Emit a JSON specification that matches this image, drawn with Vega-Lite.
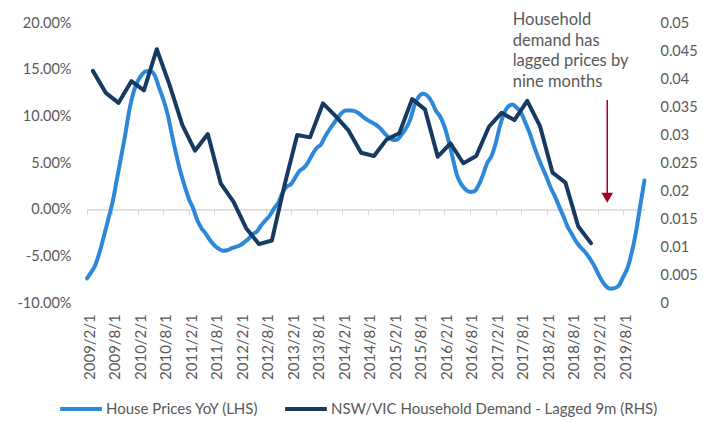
{
  "$schema": "https://vega.github.io/schema/vega-lite/v6.json",
  "width": 558,
  "height": 280,
  "autosize": "none",
  "padding": {"left": 87, "top": 23, "right": 75, "bottom": 123},
  "background": "white",
  "config": {
    "view": {"stroke": null},
    "font": "Lato",
    "axis": {"labelFont": "Lato", "labelColor": "#595959", "grid": false},
    "axisX": {
      "format": "%Y/%-m/%-d",
      "labelAngle": 270,
      "labelFontSize": 15,
      "labelOverlap": false,
      "labelFlush": false,
      "labelOffset": 2,
      "labelPadding": 99,
      "offset": -93.3,
      "domainColor": "#D9D9D9",
      "domainWidth": 1,
      "tickColor": "#D9D9D9",
      "tickSize": 5,
      "title": null
    },
    "legend": {"labelFont": "Lato"}
  },
  "datasets": {
    "prices": [
      {"d": "2009/2/1", "v": -0.0735}, {"d": "2009/3/1", "v": -0.0675}, {"d": "2009/4/1", "v": -0.0595}, {"d": "2009/5/1", "v": -0.046},
      {"d": "2009/6/1", "v": -0.029}, {"d": "2009/7/1", "v": -0.0114}, {"d": "2009/8/1", "v": 0.0067}, {"d": "2009/9/1", "v": 0.031},
      {"d": "2009/10/1", "v": 0.055}, {"d": "2009/11/1", "v": 0.08}, {"d": "2009/12/1", "v": 0.107}, {"d": "2010/1/1", "v": 0.1265},
      {"d": "2010/2/1", "v": 0.1382}, {"d": "2010/3/1", "v": 0.1447}, {"d": "2010/4/1", "v": 0.1484}, {"d": "2010/5/1", "v": 0.1482},
      {"d": "2010/6/1", "v": 0.1436}, {"d": "2010/7/1", "v": 0.1308}, {"d": "2010/8/1", "v": 0.1179}, {"d": "2010/9/1", "v": 0.1019},
      {"d": "2010/10/1", "v": 0.0805}, {"d": "2010/11/1", "v": 0.0591}, {"d": "2010/12/1", "v": 0.041}, {"d": "2011/1/1", "v": 0.0249},
      {"d": "2011/2/1", "v": 0.011}, {"d": "2011/3/1", "v": 0.0019}, {"d": "2011/4/1", "v": -0.0114}, {"d": "2011/5/1", "v": -0.02},
      {"d": "2011/6/1", "v": -0.0259}, {"d": "2011/7/1", "v": -0.0328}, {"d": "2011/8/1", "v": -0.0382}, {"d": "2011/9/1", "v": -0.0419},
      {"d": "2011/10/1", "v": -0.044}, {"d": "2011/11/1", "v": -0.0435}, {"d": "2011/12/1", "v": -0.0414}, {"d": "2012/1/1", "v": -0.0398},
      {"d": "2012/2/1", "v": -0.0382}, {"d": "2012/3/1", "v": -0.035}, {"d": "2012/4/1", "v": -0.0312}, {"d": "2012/5/1", "v": -0.0264},
      {"d": "2012/6/1", "v": -0.0232}, {"d": "2012/7/1", "v": -0.0168}, {"d": "2012/8/1", "v": -0.0114}, {"d": "2012/9/1", "v": -0.0061},
      {"d": "2012/10/1", "v": 0.0014}, {"d": "2012/11/1", "v": 0.0078}, {"d": "2012/12/1", "v": 0.0185}, {"d": "2013/1/1", "v": 0.0249},
      {"d": "2013/2/1", "v": 0.0276}, {"d": "2013/3/1", "v": 0.0345}, {"d": "2013/4/1", "v": 0.0415}, {"d": "2013/5/1", "v": 0.0447},
      {"d": "2013/6/1", "v": 0.0506}, {"d": "2013/7/1", "v": 0.0591}, {"d": "2013/8/1", "v": 0.0661}, {"d": "2013/9/1", "v": 0.0698},
      {"d": "2013/10/1", "v": 0.0784}, {"d": "2013/11/1", "v": 0.0859}, {"d": "2013/12/1", "v": 0.0923}, {"d": "2014/1/1", "v": 0.0987},
      {"d": "2014/2/1", "v": 0.1044}, {"d": "2014/3/1", "v": 0.1062}, {"d": "2014/4/1", "v": 0.1062}, {"d": "2014/5/1", "v": 0.1056},
      {"d": "2014/6/1", "v": 0.103}, {"d": "2014/7/1", "v": 0.0992}, {"d": "2014/8/1", "v": 0.096}, {"d": "2014/9/1", "v": 0.0933},
      {"d": "2014/10/1", "v": 0.0907}, {"d": "2014/11/1", "v": 0.0869}, {"d": "2014/12/1", "v": 0.0816}, {"d": "2015/1/1", "v": 0.0773},
      {"d": "2015/2/1", "v": 0.0746}, {"d": "2015/3/1", "v": 0.0752}, {"d": "2015/4/1", "v": 0.0805}, {"d": "2015/5/1", "v": 0.0869},
      {"d": "2015/6/1", "v": 0.0965}, {"d": "2015/7/1", "v": 0.1115}, {"d": "2015/8/1", "v": 0.1211}, {"d": "2015/9/1", "v": 0.1243},
      {"d": "2015/10/1", "v": 0.1222}, {"d": "2015/11/1", "v": 0.1158}, {"d": "2015/12/1", "v": 0.1062}, {"d": "2016/1/1", "v": 0.0998},
      {"d": "2016/2/1", "v": 0.0891}, {"d": "2016/3/1", "v": 0.0741}, {"d": "2016/4/1", "v": 0.0548}, {"d": "2016/5/1", "v": 0.0367},
      {"d": "2016/6/1", "v": 0.0271}, {"d": "2016/7/1", "v": 0.0217}, {"d": "2016/8/1", "v": 0.019}, {"d": "2016/9/1", "v": 0.0196},
      {"d": "2016/10/1", "v": 0.026}, {"d": "2016/11/1", "v": 0.0367}, {"d": "2016/12/1", "v": 0.0495}, {"d": "2017/1/1", "v": 0.057},
      {"d": "2017/2/1", "v": 0.0709}, {"d": "2017/3/1", "v": 0.088}, {"d": "2017/4/1", "v": 0.103}, {"d": "2017/5/1", "v": 0.1104},
      {"d": "2017/6/1", "v": 0.1126}, {"d": "2017/7/1", "v": 0.1094}, {"d": "2017/8/1", "v": 0.104}, {"d": "2017/9/1", "v": 0.0933},
      {"d": "2017/10/1", "v": 0.0826}, {"d": "2017/11/1", "v": 0.0687}, {"d": "2017/12/1", "v": 0.0565}, {"d": "2018/1/1", "v": 0.0452},
      {"d": "2018/2/1", "v": 0.0345}, {"d": "2018/3/1", "v": 0.0238}, {"d": "2018/4/1", "v": 0.0142}, {"d": "2018/5/1", "v": 0.0035},
      {"d": "2018/6/1", "v": -0.0072}, {"d": "2018/7/1", "v": -0.0184}, {"d": "2018/8/1", "v": -0.0264}, {"d": "2018/9/1", "v": -0.0346},
      {"d": "2018/10/1", "v": -0.0403}, {"d": "2018/11/1", "v": -0.0451}, {"d": "2018/12/1", "v": -0.051}, {"d": "2019/1/1", "v": -0.0585},
      {"d": "2019/2/1", "v": -0.0676}, {"d": "2019/3/1", "v": -0.0756}, {"d": "2019/4/1", "v": -0.082}, {"d": "2019/5/1", "v": -0.0847},
      {"d": "2019/6/1", "v": -0.0841}, {"d": "2019/7/1", "v": -0.0815}, {"d": "2019/8/1", "v": -0.0724}, {"d": "2019/9/1", "v": -0.0628},
      {"d": "2019/10/1", "v": -0.0467}, {"d": "2019/11/1", "v": -0.0243}, {"d": "2019/12/1", "v": 0.0035}, {"d": "2020/1/1", "v": 0.0313}
    ],
    "demand": [
      {"d": "2009/3/15", "v": 0.04145}, {"d": "2009/6/15", "v": 0.03753}, {"d": "2009/9/15", "v": 0.03575}, {"d": "2009/12/15", "v": 0.03961},
      {"d": "2010/3/15", "v": 0.03796}, {"d": "2010/6/15", "v": 0.04532}, {"d": "2010/9/15", "v": 0.0389}, {"d": "2010/12/15", "v": 0.03177},
      {"d": "2011/3/15", "v": 0.02719}, {"d": "2011/6/15", "v": 0.03017}, {"d": "2011/9/15", "v": 0.02138}, {"d": "2011/12/15", "v": 0.0181},
      {"d": "2012/3/15", "v": 0.01336}, {"d": "2012/6/15", "v": 0.01051}, {"d": "2012/9/15", "v": 0.01116}, {"d": "2012/12/15", "v": 0.0211},
      {"d": "2013/3/15", "v": 0.02999}, {"d": "2013/6/15", "v": 0.02958}, {"d": "2013/9/15", "v": 0.03564}, {"d": "2013/12/15", "v": 0.03338},
      {"d": "2014/3/15", "v": 0.03088}, {"d": "2014/6/15", "v": 0.02684}, {"d": "2014/9/15", "v": 0.02625}, {"d": "2014/12/15", "v": 0.02922},
      {"d": "2015/3/15", "v": 0.0303}, {"d": "2015/6/15", "v": 0.0364}, {"d": "2015/9/15", "v": 0.03457}, {"d": "2015/12/15", "v": 0.02612},
      {"d": "2016/3/15", "v": 0.02851}, {"d": "2016/6/15", "v": 0.02495}, {"d": "2016/9/15", "v": 0.02625}, {"d": "2016/12/15", "v": 0.03147},
      {"d": "2017/3/15", "v": 0.03396}, {"d": "2017/6/15", "v": 0.03266}, {"d": "2017/9/15", "v": 0.0361}, {"d": "2017/12/15", "v": 0.0316},
      {"d": "2018/3/15", "v": 0.02327}, {"d": "2018/6/15", "v": 0.02149}, {"d": "2018/9/15", "v": 0.01365}, {"d": "2018/12/15", "v": 0.01069}
    ]
  },
  "layer": [
    {
      "layer": [
        {
          "data": {"values": [{}]},
          "mark": {"type": "rule", "color": "#D9D9D9", "strokeWidth": 1},
          "encoding": {
            "y": {"datum": 0, "type": "quantitative", "scale": {"domain": [-0.1, 0.2], "nice": false, "zero": false}}
          }
        },
        {
          "data": {"name": "prices"},
          "mark": {"type": "line", "strokeWidth": 4, "interpolate": "monotone", "strokeCap": "round", "strokeJoin": "round"},
          "encoding": {
            "x": {
              "field": "d", "type": "temporal",
              "scale": {"domain": [{"year": 2009, "month": 2, "date": 1}, {"year": 2020, "month": 1, "date": 5}]},
              "axis": {
                "title": null,
                "labelOverlap": false,
                "domain": true,
                "ticks": true,
                "domainColor": "#D9D9D9",
                "domainWidth": 1,
                "tickColor": "#D9D9D9",
                "tickWidth": 1,
                "tickSize": 5,
                "offset": -93.3,
                "labelPadding": 99,
                "values": [
                  {"year": 2009, "month": 2, "date": 1}, {"year": 2009, "month": 8, "date": 1},
                  {"year": 2010, "month": 2, "date": 1}, {"year": 2010, "month": 8, "date": 1},
                  {"year": 2011, "month": 2, "date": 1}, {"year": 2011, "month": 8, "date": 1},
                  {"year": 2012, "month": 2, "date": 1}, {"year": 2012, "month": 8, "date": 1},
                  {"year": 2013, "month": 2, "date": 1}, {"year": 2013, "month": 8, "date": 1},
                  {"year": 2014, "month": 2, "date": 1}, {"year": 2014, "month": 8, "date": 1},
                  {"year": 2015, "month": 2, "date": 1}, {"year": 2015, "month": 8, "date": 1},
                  {"year": 2016, "month": 2, "date": 1}, {"year": 2016, "month": 8, "date": 1},
                  {"year": 2017, "month": 2, "date": 1}, {"year": 2017, "month": 8, "date": 1},
                  {"year": 2018, "month": 2, "date": 1}, {"year": 2018, "month": 8, "date": 1},
                  {"year": 2019, "month": 2, "date": 1}, {"year": 2019, "month": 8, "date": 1}
                ]
              }
            },
            "y": {
              "field": "v", "type": "quantitative",
              "scale": {"domain": [-0.1, 0.2], "nice": false, "zero": false},
              "axis": {
                "title": null,
                "orient": "left",
                "values": [-0.1, -0.05, 0, 0.05, 0.1, 0.15, 0.2],
                "labelExpr": "replace(format(datum.value, '.2%'), '\u2212', '-')",
                "domain": false,
                "ticks": false,
                "tickSize": 0,
                "labelPadding": 16,
                "labelFontSize": 14.5,
                "grid": false
              }
            },
            "color": {
              "datum": "House Prices YoY (LHS)",
              "type": "nominal",
              "scale": {
                "domain": ["House Prices YoY (LHS)", "NSW/VIC Household Demand - Lagged 9m (RHS)"],
                "range": ["#2E88D9", "#163A61"]
              },
              "legend": {
                "title": null,
                "orient": "none",
                "legendX": -29,
                "legendY": 363,
                "direction": "horizontal",
                "symbolType": "stroke",
                "symbolSize": 1739,
                "symbolStrokeWidth": 4,
                "labelFontSize": 15,
                "labelColor": "#595959",
                "labelOffset": 2,
                "labelLimit": 600,
                "columnPadding": 18,
                "padding": 0
              }
            }
          }
        },
        {
          "data": {"values": [{}]},
          "mark": {"type": "rule", "color": "#A50021", "strokeWidth": 1.5},
          "encoding": {
            "x": {
              "datum": {"year": 2019, "month": 4, "date": 10}, "type": "temporal",
              "axis": {
                "title": null,
                "labelOverlap": false,
                "values": [
                  {"year": 2009, "month": 2, "date": 1}, {"year": 2009, "month": 8, "date": 1},
                  {"year": 2010, "month": 2, "date": 1}, {"year": 2010, "month": 8, "date": 1},
                  {"year": 2011, "month": 2, "date": 1}, {"year": 2011, "month": 8, "date": 1},
                  {"year": 2012, "month": 2, "date": 1}, {"year": 2012, "month": 8, "date": 1},
                  {"year": 2013, "month": 2, "date": 1}, {"year": 2013, "month": 8, "date": 1},
                  {"year": 2014, "month": 2, "date": 1}, {"year": 2014, "month": 8, "date": 1},
                  {"year": 2015, "month": 2, "date": 1}, {"year": 2015, "month": 8, "date": 1},
                  {"year": 2016, "month": 2, "date": 1}, {"year": 2016, "month": 8, "date": 1},
                  {"year": 2017, "month": 2, "date": 1}, {"year": 2017, "month": 8, "date": 1},
                  {"year": 2018, "month": 2, "date": 1}, {"year": 2018, "month": 8, "date": 1},
                  {"year": 2019, "month": 2, "date": 1}, {"year": 2019, "month": 8, "date": 1}
                ]
              }
            },
            "y": {"datum": 0.1176, "type": "quantitative", "scale": {"domain": [-0.1, 0.2], "nice": false, "zero": false}},
            "y2": {"datum": 0.016}
          }
        },
        {
          "data": {"values": [{}]},
          "mark": {"type": "point", "shape": "triangle-down", "filled": true, "color": "#A50021", "size": 135, "opacity": 1},
          "encoding": {
            "x": {
              "datum": {"year": 2019, "month": 4, "date": 10}, "type": "temporal",
              "axis": {
                "title": null,
                "labelOverlap": false,
                "values": [
                  {"year": 2009, "month": 2, "date": 1}, {"year": 2009, "month": 8, "date": 1},
                  {"year": 2010, "month": 2, "date": 1}, {"year": 2010, "month": 8, "date": 1},
                  {"year": 2011, "month": 2, "date": 1}, {"year": 2011, "month": 8, "date": 1},
                  {"year": 2012, "month": 2, "date": 1}, {"year": 2012, "month": 8, "date": 1},
                  {"year": 2013, "month": 2, "date": 1}, {"year": 2013, "month": 8, "date": 1},
                  {"year": 2014, "month": 2, "date": 1}, {"year": 2014, "month": 8, "date": 1},
                  {"year": 2015, "month": 2, "date": 1}, {"year": 2015, "month": 8, "date": 1},
                  {"year": 2016, "month": 2, "date": 1}, {"year": 2016, "month": 8, "date": 1},
                  {"year": 2017, "month": 2, "date": 1}, {"year": 2017, "month": 8, "date": 1},
                  {"year": 2018, "month": 2, "date": 1}, {"year": 2018, "month": 8, "date": 1},
                  {"year": 2019, "month": 2, "date": 1}, {"year": 2019, "month": 8, "date": 1}
                ]
              }
            },
            "y": {"datum": 0.0128, "type": "quantitative", "scale": {"domain": [-0.1, 0.2], "nice": false, "zero": false}}
          }
        },
        {
          "data": {"values": [{}]},
          "mark": {
            "type": "text",
            "text": ["Household", "demand has", "lagged prices by", "nine months"],
            "align": "left",
            "baseline": "top",
            "font": "Lato",
            "fontSize": 16.5,
            "lineHeight": 20.5,
            "color": "#595959"
          },
          "encoding": {
            "x": {
              "datum": {"year": 2017, "month": 6, "date": 3}, "type": "temporal",
              "axis": {
                "title": null,
                "labelOverlap": false,
                "values": [
                  {"year": 2009, "month": 2, "date": 1}, {"year": 2009, "month": 8, "date": 1},
                  {"year": 2010, "month": 2, "date": 1}, {"year": 2010, "month": 8, "date": 1},
                  {"year": 2011, "month": 2, "date": 1}, {"year": 2011, "month": 8, "date": 1},
                  {"year": 2012, "month": 2, "date": 1}, {"year": 2012, "month": 8, "date": 1},
                  {"year": 2013, "month": 2, "date": 1}, {"year": 2013, "month": 8, "date": 1},
                  {"year": 2014, "month": 2, "date": 1}, {"year": 2014, "month": 8, "date": 1},
                  {"year": 2015, "month": 2, "date": 1}, {"year": 2015, "month": 8, "date": 1},
                  {"year": 2016, "month": 2, "date": 1}, {"year": 2016, "month": 8, "date": 1},
                  {"year": 2017, "month": 2, "date": 1}, {"year": 2017, "month": 8, "date": 1},
                  {"year": 2018, "month": 2, "date": 1}, {"year": 2018, "month": 8, "date": 1},
                  {"year": 2019, "month": 2, "date": 1}, {"year": 2019, "month": 8, "date": 1}
                ]
              }
            },
            "y": {"datum": 0.2114, "type": "quantitative", "scale": {"domain": [-0.1, 0.2], "nice": false, "zero": false}}
          }
        }
      ]
    },
    {
      "data": {"name": "demand"},
      "mark": {"type": "line", "strokeWidth": 4, "strokeJoin": "round", "strokeCap": "round"},
      "encoding": {
        "x": {
          "field": "d", "type": "temporal",
          "axis": {
            "title": null,
            "labelOverlap": false,
            "values": [
              {"year": 2009, "month": 2, "date": 1}, {"year": 2009, "month": 8, "date": 1},
              {"year": 2010, "month": 2, "date": 1}, {"year": 2010, "month": 8, "date": 1},
              {"year": 2011, "month": 2, "date": 1}, {"year": 2011, "month": 8, "date": 1},
              {"year": 2012, "month": 2, "date": 1}, {"year": 2012, "month": 8, "date": 1},
              {"year": 2013, "month": 2, "date": 1}, {"year": 2013, "month": 8, "date": 1},
              {"year": 2014, "month": 2, "date": 1}, {"year": 2014, "month": 8, "date": 1},
              {"year": 2015, "month": 2, "date": 1}, {"year": 2015, "month": 8, "date": 1},
              {"year": 2016, "month": 2, "date": 1}, {"year": 2016, "month": 8, "date": 1},
              {"year": 2017, "month": 2, "date": 1}, {"year": 2017, "month": 8, "date": 1},
              {"year": 2018, "month": 2, "date": 1}, {"year": 2018, "month": 8, "date": 1},
              {"year": 2019, "month": 2, "date": 1}, {"year": 2019, "month": 8, "date": 1}
            ]
          }
        },
        "y": {
          "field": "v", "type": "quantitative",
          "scale": {"domain": [0, 0.05], "nice": false, "zero": false},
          "axis": {
            "title": null,
            "orient": "right",
            "values": [0, 0.005, 0.01, 0.015, 0.02, 0.025, 0.03, 0.035, 0.04, 0.045, 0.05],
            "format": ".3~f",
            "domain": false,
            "ticks": false,
            "tickSize": 0,
            "labelPadding": 15,
            "labelFontSize": 14.5,
            "grid": false
          }
        },
        "color": {"datum": "NSW/VIC Household Demand - Lagged 9m (RHS)", "type": "nominal"}
      }
    }
  ],
  "resolve": {"scale": {"y": "independent"}}
}
